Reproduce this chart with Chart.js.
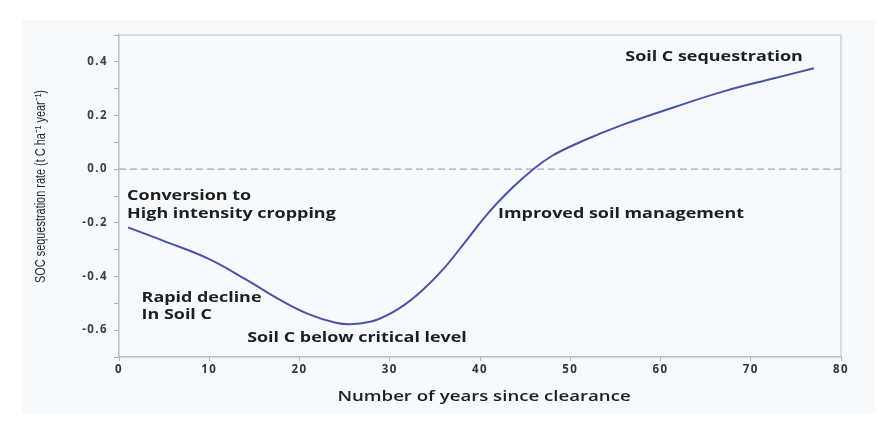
<!DOCTYPE html>
<html>
<head>
<meta charset="utf-8">
<script src="https://cdn.jsdelivr.net/npm/chart.js@4.4.1/dist/chart.umd.min.js"></script>
<style>
  html, body { margin: 0; padding: 0; background: #ffffff; }
  #wrap { position: relative; width: 885px; height: 425px; }
  #panel { position: absolute; left: 22px; top: 20px; width: 853px; height: 393px; background: #f6fafd; }
  canvas { position: absolute; left: 0; top: 0; }
</style>
</head>
<body>
<div id="wrap">
  <div id="panel"></div>
  <canvas id="chart" width="885" height="425"></canvas>
</div>
<script>
// curve
const years = [1, 5, 10, 14, 18, 21, 24, 26, 28.5, 31, 33.5, 36, 38.5, 41, 43.5, 45.9, 48, 50.5, 53, 56, 61.5, 67, 72.5, 77]
const rate = [-0.217, -0.268, -0.335, -0.41, -0.49, -0.54, -0.572, -0.577, -0.562, -0.52, -0.455, -0.37, -0.265, -0.16, -0.072, 0, 0.05, 0.092, 0.128, 0.168, 0.231, 0.29, 0.338, 0.376]

const xTicks = [0, 10, 20, 30, 40, 50, 60, 70, 80]
const yTicks = [-0.6, -0.4, -0.2, 0.0, 0.2, 0.4]

const xTitle = "Number of years since clearance"
const yTitle = "SOC sequestration rate (t C ha\u207B\u00B9 year\u207B\u00B9)"

const notes = [
  { text: "Conversion to", x: 0.9, y: -0.101 },
  { text: "High intensity cropping", x: 0.9, y: -0.168 },
  { text: "Rapid decline", x: 2.5, y: -0.479 },
  { text: "In Soil C", x: 2.5, y: -0.542 },
  { text: "Soil C below critical level", x: 14.2, y: -0.628 },
  { text: "Improved soil management", x: 42.0, y: -0.168 },
  { text: "Soil C sequestration", x: 56.1, y: 0.419 }
]

// the source picture is stretched sideways, so text is widened to match
const STRETCH = 1.28

const frame = {
  id: "frame",
  beforeDraw(chart) {
    chart.ctx.letterSpacing = "1.4px"
  },
  beforeDatasetsDraw(chart) {
    const { ctx, chartArea: a } = chart
    ctx.save()
    ctx.strokeStyle = "#c3c9d8"
    ctx.lineWidth = 1.2
    ctx.strokeRect(a.left, a.top, a.right - a.left, a.bottom - a.top)
    ctx.restore()
  },
  afterDraw(chart) {
    const { ctx, scales } = chart
    ctx.save()
    ctx.letterSpacing = "0px"
    ctx.fillStyle = "#1e1e1e"
    ctx.textBaseline = "middle"

    // notes on the curve
    ctx.font = "bold 14px 'Open Sans'"
    ctx.textAlign = "left"
    notes.forEach(n => {
      const px = scales.x.getPixelForValue(n.x)
      const py = scales.y.getPixelForValue(n.y)
      ctx.save()
      ctx.translate(px, py)
      ctx.scale(STRETCH, 1)
      ctx.fillText(n.text, 0, 0)
      ctx.restore()
    })

    // x title
    ctx.font = "600 14px 'Open Sans'"
    ctx.textAlign = "center"
    ctx.save()
    ctx.translate(484, 397)
    ctx.scale(1.33, 1)
    ctx.fillText(xTitle, 0, 0)
    ctx.restore()

    // y title, squeezed to the length it has in the source
    ctx.font = "11px 'Liberation Sans'"
    const w = ctx.measureText(yTitle).width
    ctx.fillStyle = "#262626"
    ctx.save()
    ctx.translate(41, 186.5)
    ctx.rotate(-Math.PI / 2)
    ctx.scale(193 / w, 1.3)
    ctx.fillText(yTitle, 0, 0)
    ctx.restore()

    ctx.restore()
  }
}

new Chart(document.getElementById("chart").getContext("2d"), {
  type: "line",
  data: {
    datasets: [
      {
        data: years.map((x, i) => ({ x, y: rate[i] })),
        borderColor: "#4a54a3",
        borderWidth: 2,
        pointRadius: 0,
        tension: 0.4,
        fill: false
      },
      {
        data: [{ x: 0, y: 0 }, { x: 80, y: 0 }],
        borderColor: "#a0a8c4",
        borderWidth: 1.3,
        borderDash: [7, 4],
        pointRadius: 0,
        fill: false
      }
    ]
  },
  options: {
    responsive: false,
    animation: false,
    layout: { padding: { top: 35, right: 44, left: 0, bottom: 0 } },
    plugins: { legend: { display: false }, tooltip: { enabled: false } },
    scales: {
      x: {
        type: "linear",
        min: 0,
        max: 80,
        afterFit(s) { s.height = 68 },
        afterBuildTicks(s) { s.ticks = xTicks.map(v => ({ value: v })) },
        grid: { drawOnChartArea: false, tickLength: 4, color: "#aab0cc" },
        border: { color: "#aab0cc", width: 1.2 },
        ticks: {
          color: "#333333",
          padding: 2,
          maxRotation: 0,
          font: { family: "'Open Sans'", size: 11.5, weight: "700" }
        }
      },
      y: {
        min: -0.7,
        max: 0.5,
        afterFit(s) { s.width = 119 },
        afterBuildTicks(s) {
          const t = []
          for (let k = -7; k <= 5; k++) t.push({ value: k / 10 })
          s.ticks = t
        },
        grid: { drawOnChartArea: false, tickLength: 5, color: "#aab0cc" },
        border: { color: "#aab0cc", width: 1.2 },
        ticks: {
          color: "#3c3c3c",
          padding: 6,
          font: { family: "'Open Sans'", size: 11.5, weight: "700" },
          callback(v) {
            const hit = yTicks.find(t => Math.abs(t - v) < 1e-6)
            return hit === undefined ? "" : hit.toFixed(1)
          }
        }
      }
    }
  },
  plugins: [frame]
})
</script>
</body>
</html>
